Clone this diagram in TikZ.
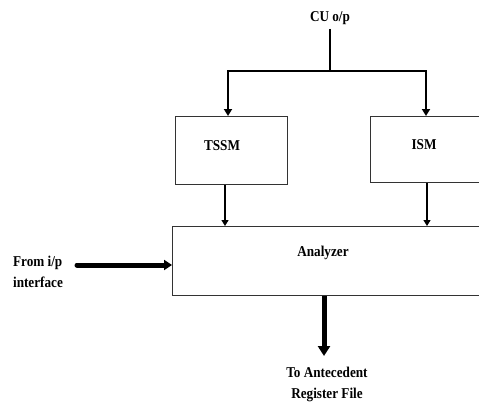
\documentclass[tikz,border=0pt]{standalone}
\usepackage{fontspec}
\setmainfont{Liberation Serif}
\newfontfamily\lblfont{Liberation Serif}[FakeStretch=0.88]
\usetikzlibrary{arrows.meta,calc}
\begin{document}
\begin{tikzpicture}[x=1pt,y=-1pt,
 txt/.style={font=\lblfont\fontsize{15}{21}\selectfont\bfseries, inner sep=0pt, align=center},
 box/.style={draw=black!80, line width=1.1pt, inner sep=0pt},
 feed/.style={line width=2pt, -{Triangle[width=8pt,length=7pt]}},
 thinarr/.style={line width=1.2pt, -{Triangle[width=7pt,length=6pt]}},
 fat/.style={line width=5pt, -{Triangle[width=12pt,length=10pt]}}]
\useasboundingbox (0,0) rectangle (479,402);
\clip (0,0) rectangle (479,402);
\node[box, minimum width=112pt, minimum height=68pt, anchor=north west] (tssm) at (175,116) {};
\node[box, minimum width=140pt, minimum height=66pt, anchor=north west] (ism) at (370,116) {};
\node[box, minimum width=340pt, minimum height=69pt, anchor=north west] (an) at (172,226) {};
\node[txt] (cu) at (330,18) {CU o/p};
\node[txt] (tssmt) at (222,146) {TSSM};
\node[txt] (ismt) at (424,145) {ISM};
\node[txt] (ant) at (323,253) {Analyzer};
\node[txt, align=left] (from) at (38,272) {From i/p\\interface};
\node[txt] (to) at (327,384) {To Antecedent\\Register File};
\coordinate (split) at (330,71);
\coordinate (cT) at (228,0);
\coordinate (cI) at (426,0);
\coordinate (dT) at (225,0);
\coordinate (dI) at (427,0);
\coordinate (fs) at (77,265);
\coordinate (te) at (324,356);
\draw[line width=2pt] (cu.south) ++(0,4) -- (split);
\draw[feed] (split) -| (tssm.north -| cT);
\draw[feed] (split) -| (ism.north -| cI);
\draw[thinarr] (tssm.south -| dT) -- (an.north -| dT);
\draw[thinarr] (ism.south -| dI) -- (an.north -| dI);
\draw[line width=5pt, line cap=round, -{Triangle[width=10pt,length=8pt]}] (fs) -- (an.west |- fs);
\draw[fat] (an.south -| te) -- (te);
\end{tikzpicture}
\end{document}
